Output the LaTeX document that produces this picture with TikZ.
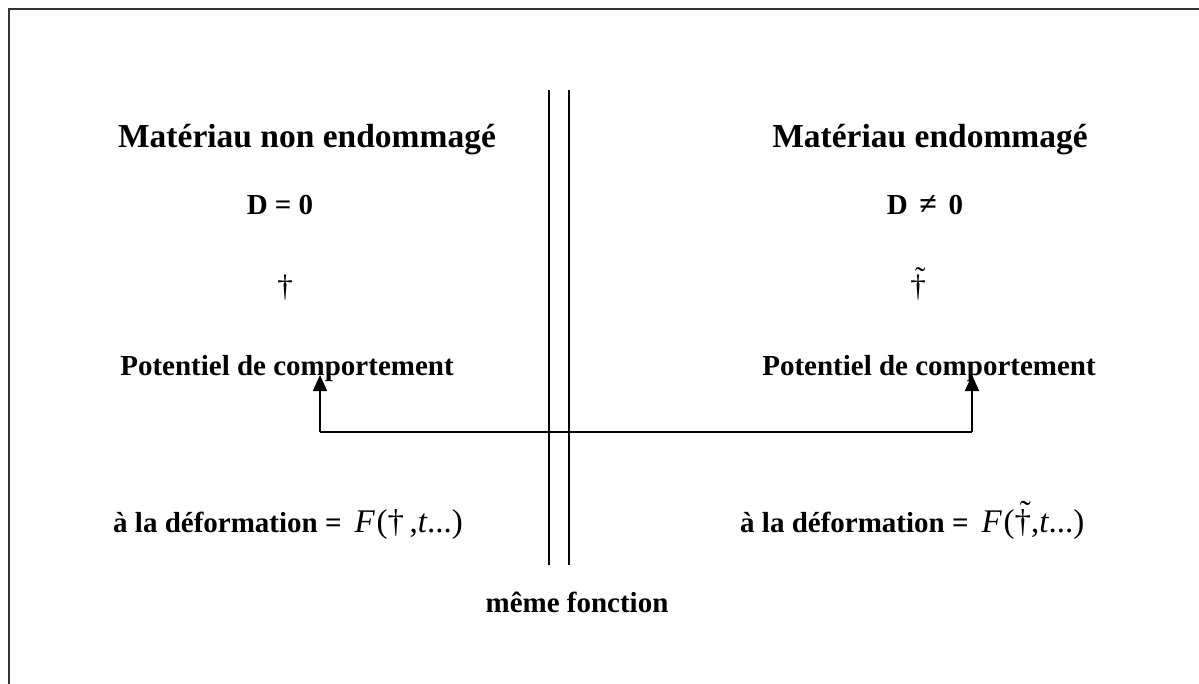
\documentclass[tikz,border=0pt]{standalone}
\usepackage{fontspec}
\setmainfont{Liberation Serif}
\usetikzlibrary{arrows.meta}
\newcommand{\tdag}{\ooalign{†\cr\hidewidth\kern0.14em\raisebox{0.26em}{\char"02DC}\hidewidth\cr}}
\newcommand{\fpart}[1]{{\fontsize{33}{37}\selectfont\textit{F}\kern0.05em(#1,\textit{t}...)}}
\tikzset{
  title/.style={font=\fontsize{33.5}{38}\selectfont\bfseries, anchor=base, inner sep=0pt},
  lbl/.style={font=\fontsize{29}{33}\selectfont\bfseries, anchor=base, inner sep=0pt},
  sym/.style={font=\fontsize{31}{35}\selectfont, anchor=base, inner sep=0pt},
  formula/.style={font=\fontsize{29}{33}\selectfont, anchor=base west, inner sep=0pt},
  ln/.style={line width=1.6pt, black},
  arr/.style={line width=1.6pt, black, -{Triangle[width=14pt,length=16pt]}},
  frame/.style={line width=2.5pt, black!80}
}
\begin{document}
\begin{tikzpicture}[x=1pt,y=-1pt]
\useasboundingbox (0,0) rectangle (1199,684);
\draw[frame] (9,684) -- (9,9) -- (1199,9);
% separator
\coordinate (s1t) at (549,90); \coordinate (s1b) at (549,565);
\coordinate (s2t) at (569,90); \coordinate (s2b) at (569,565);
\draw[ln] (s1t) -- (s1b);
\draw[ln] (s2t) -- (s2b);
% left column
\node[title] (tl) at (307,148) {Matériau non endommagé};
\node[lbl] (dl) at (280,215) {D = 0};
\node[sym] (gl) at (285,297) {†};
\node[lbl] (pl) at (287,375) {Potentiel de comportement};
\node[formula] (fl) at (113,532) {\textbf{à la déformation =}\hspace{0.45em}\fpart{†\,}};
% right column
\node[title] (tr) at (930,148) {Matériau endommagé};
\node[lbl] (dr) at (925,215) {D\hspace{0.4em}{\fontsize{32}{36}\selectfont ≠}\hspace{0.4em}0};
\node[sym] (gr) at (918,297) {\tdag};
\node[lbl] (pr) at (929,375) {Potentiel de comportement};
\node[formula] (fr) at (740,532) {\textbf{à la déformation =}\hspace{0.45em}\fpart{\tdag}};
% bottom
\node[lbl] (mf) at (577,612) {même fonction};
% connector
\coordinate (jl) at (320,432);
\coordinate (jr) at (972,432);
\coordinate (al) at (320,375);
\coordinate (ar) at (972,375);
\draw[ln] (jl) -- (jr);
\draw[arr] (jl) -- (al);
\draw[arr] (jr) -- (ar);
\end{tikzpicture}
\end{document}
